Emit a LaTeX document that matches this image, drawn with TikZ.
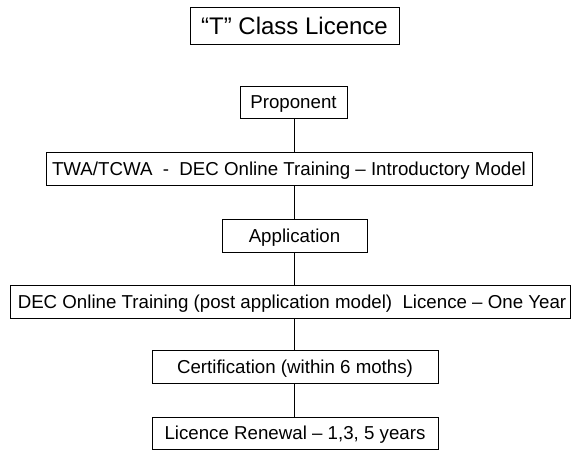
\documentclass[tikz,border=0pt]{standalone}
\usepackage{fontspec}
\setmainfont{Liberation Sans}
\begin{document}
\begin{tikzpicture}[x=1pt,y=-1pt,
  box/.style={draw=black,line width=1pt,rectangle,inner sep=0pt,
    font=\fontsize{18.7}{22}\selectfont,text=black,text height=13.3pt,text depth=0pt},
  conn/.style={draw=black,line width=1pt}]
\useasboundingbox (0,0) rectangle (571,450);
\node[box,minimum width=209pt,minimum height=37pt,font=\fontsize{24}{28}\selectfont,text height=17.2pt] (title) at (294.5,25.5) {“T” Class Licence};
\node[box,minimum width=107pt,minimum height=32pt] (prop) at (293.5,102) {Proponent};
\node[box,minimum width=486pt,minimum height=33pt] (twa) at (289,168.5) {TWA/TCWA\ \ -\ \ DEC Online Training – Introductory Model};
\node[box,minimum width=145pt,minimum height=33pt] (app) at (294.5,235.5) {Application};
\node[box,minimum width=560pt,minimum height=33pt] (dec) at (290,301.5) {\hspace*{4pt}DEC Online Training (post application model)\ \ Licence – One Year};
\node[box,minimum width=286pt,minimum height=33pt] (cert) at (295,366.5) {Certification (within 6 moths)};
\node[box,minimum width=286pt,minimum height=32pt] (ren) at (295,433) {Licence Renewal – 1,3, 5 years};
\coordinate (lx) at (294.5,0);
\draw[conn] (prop.south -| lx) -- (twa.north -| lx);
\draw[conn] (twa.south -| lx) -- (app.north -| lx);
\draw[conn] (app.south -| lx) -- (dec.north -| lx);
\draw[conn] (dec.south -| lx) -- (cert.north -| lx);
\draw[conn] (cert.south -| lx) -- (ren.north -| lx);
\end{tikzpicture}
\end{document}
